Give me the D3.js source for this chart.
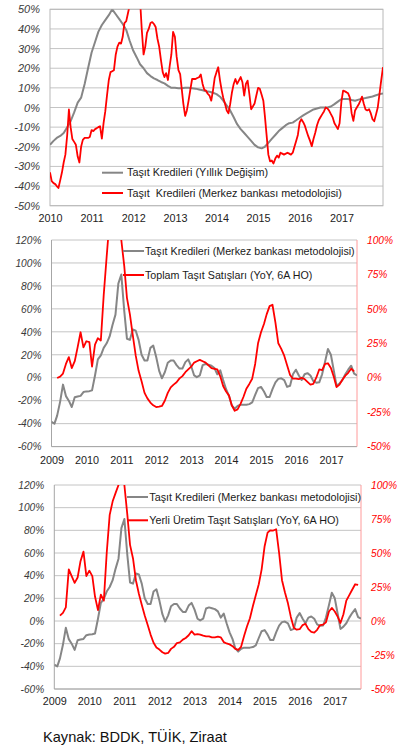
<!DOCTYPE html>
<html><head><meta charset="utf-8">
<script src="https://cdn.jsdelivr.net/npm/d3@7"></script>
<style>
body{margin:0;background:#fff;}
svg{display:block;font-family:"Liberation Sans",Arial,sans-serif;}
</style></head>
<body><svg id="c" width="399" height="755"></svg>
<script>
// ---------- DATA ----------
const years1 = ["2010","2011","2012","2013","2014","2015","2016","2017"];
const years23 = ["2009","2010","2011","2012","2013","2014","2015","2016","2017"];
const ticks1 = [50,40,30,20,10,0,-10,-20,-30,-40,-50];
const ticksLeft = [120,100,80,60,40,20,0,-20,-40,-60];
const ticksRight = [100,75,50,25,0,-25,-50];

// Panel 1: monthly from Jan 2010 (Yıllık Değişim)
const gray1 = [-19,-17,-15.5,-14.5,-13,-10,-7,-2.5,2.5,5,12,20,28,33.5,38.5,42,44.5,47,50,47.5,
 45,42.5,39.5,34,29,25.5,22,20,17.5,16,14.8,14,13,12.3,11,10,10,9.8,9.8,10,
 10,9.8,9.6,9.2,8.8,8.3,8,7.5,6.8,5.5,3.5,1,-1.5,-5,-8.5,-11,-13,-15,-17,-19,
 -20.3,-20.8,-20,-18,-16,-14,-12,-10.5,-9,-8,-7.7,-6.5,-5.2,-4,-3,-2,-1,-0.5,0,0,
 0,0.5,1.7,3,4.3,4.3,4.3,3.8,3.4,4,4.5,4.8,5.2,5.6,6.2,6.8,7.2];
// Panel 1: semi-monthly from Jan 2010 (Merkez bankası metodolojisi)
const red1 = [-33,-37.5,-38.5,-39,-40,-41,-37,-33,-28,-24,-14,-1,-10,-16,-17.5,-19,-25,-28,-20,-16.5,
 -15.5,-15.5,-15.5,-15,-11.5,-12,-11,-10.5,-10,-9.5,-15.8,-8,-2,6,14,18,18.5,19,27,31,
 33,32.5,36,43,44,48,52,56,60,58,62,60,55,40,27,31,38,40,43,43.5,
 42.5,41,35,31,24,18,15.5,17.5,14,21,27,38.5,36,26,19,17,10,2,-4.3,-1.5,
 3.5,9,14.5,14.5,14.5,15,15.4,16.8,12,9,8.6,7,6,3.5,8.6,15,18,20.5,13.7,8.6,
 5,2,-1.5,-3,1.7,7.5,12,14.5,12,13.7,15.5,13,6,12,13.7,7,-0.9,0.5,2,6,
 10,9.5,6.5,3.5,-4,-13.7,-24,-27.4,-27,-28.5,-26,-24.5,-25.5,-23,-23.5,-24,-23.5,-23,-23.5,-24,
 -23,-20,-17,-14,-7.5,-6,-7.5,-9.4,-12,-14.6,-17,-19.7,-16,-13,-9,-6.5,-5,-3.5,-2,0,
 -0.5,-1.7,-3.4,-5,-8,-9.5,-11,-8,3,8.6,8.2,7.7,7.2,5,-3,-6.8,-1.5,0,1.5,3.4,
 5.5,2,-1,-1.5,-0.9,-3,-6,-7,-3.5,0,6.8,13.7,20.5];
// Panels 2 & 3: monthly from Jan 2009 (Merkez bankası metodolojisi, left axis)
const gray2 = [-38.5,-40,-33,-21,-6,-16,-20,-25.5,-17,-16.3,-15.8,-12.5,-11.9,-11.7,-11,2,16,19.5,26,30,
 36,46,55,82,90,58,34,33,42,41,33,20,15,15,26,28,18,6,-0.5,5,
 13,15,15,11,8,8,13.6,16,10,2,0.5,2,11,12,11.3,10.5,8.5,3,6.5,-2,
 -10,-16,-24,-27,-24.5,-23.5,-23.5,-23.5,-23,-21.5,-15,-9,-8,-12,-16.8,-16.8,-10,-4,-1,-0.5,
 -2,-8,-7,3,7,2,-2,3,4,2,-3,-4.3,-4,3,14,25,20,6,-7,-5,
 -2,3,7,10.5,3.5,2];
// Panel 2: monthly from Mar 2009 (Toplam Taşıt Satışları, right axis)
const red2 = [-0.2,0.8,3,10,15,7,12,22,33,22,26.5,25.8,8,24,28.7,27,60,88,115,130,
 130,120,100,81,58,46,31,16,5,-2.5,-11,-15,-18,-20,-21.3,-21,-20.5,-16.5,-11,-7,
 -5,-3.3,-0.5,1.2,4,6,8,11,12,13,12,11,9,7,6.5,6,1,-6,-10,-13,
 -20,-24,-23,-19,-14,-8,-4.5,-0.7,10,25,33,39,46,52,53,40,25,21,16,9,
 2,-0.7,-0.7,-1,0,-1,-3,-5,-4.5,0,6,5.5,10,10.5,7,0.5,-6.8,-5,-1.5,1.5,
 3.6,6.5,4.6];
// Panel 3: monthly from Mar 2009 (Yerli Üretim Taşıt Satışları, right axis)
const red3 = [4,6,10,38,33,28,32,44,51,33,37,33,18,8,19.4,15,50,78,88,94,
 100,110,100,78,56,46,30,20,12,4,-3,-10,-16,-19.5,-21,-23,-24,-23.5,-20.5,-19,
 -16.2,-15.7,-13.7,-12.5,-10.5,-7.5,-10,-9.6,-10,-10.8,-11.3,-11.3,-12,-12,-11.5,-12,-15.5,-16.5,-17.2,-18.5,
 -20.5,-21.3,-19,-11,-4,2,11,19,27,38,55,65,66.7,66.5,67.5,50,30,21,13,3,
 -5,-6.4,-6,-3,-2,-6,-8,-8.5,-6.5,-3,-2.7,-1,7,9.6,7,3,-1.5,5,15,19,
 23,27,26.5];

const legend1 = ["Taşıt Kredileri (Yıllık Değişim)", "Taşıt  Kredileri (Merkez bankası metodolojisi)"];
const legend2 = ["Taşıt Kredileri (Merkez bankası metodolojisi)", "Toplam Taşıt Satışları (YoY, 6A HO)"];
const legend3 = ["Taşıt Kredileri (Merkez bankası metodolojisi)", "Yerli Üretim Taşıt Satışları (YoY, 6A HO)"];
const source = "Kaynak: BDDK, TÜİK, Ziraat";

// ---------- HELPERS ----------
const svg = d3.select("#c");
const GRAY = "#868686", RED = "#ff0000", GRID = "#c4c4c4";
const monthly = (y0, m0, arr) => arr.map((v, i) => ({d: new Date(y0, m0 + i, 1), v}));
const semiMonthly = (y0, m0, arr) => arr.map((v, i) => ({d: new Date(y0, m0 + Math.floor(i/2), i % 2 ? 16 : 1), v}));
let clipId = 0;

function drawPanel(cfg) {
  const g = svg.append("g");
  const x = d3.scaleTime().domain(cfg.xDomain).range([cfg.left, cfg.right]);
  const yL = d3.scaleLinear().domain(cfg.yDomain).range([cfg.bottom, cfg.top]);
  const yR = cfg.yRDomain ? d3.scaleLinear().domain(cfg.yRDomain).range([cfg.bottom, cfg.top]) : null;

  // gridlines
  g.append("g").selectAll("line").data(cfg.ticks).join("line")
    .attr("x1", cfg.left).attr("x2", cfg.right)
    .attr("y1", d => yL(d)).attr("y2", d => yL(d))
    .attr("stroke", GRID).attr("stroke-width", 1);

  // axes / border
  if (cfg.box) {
    g.append("rect").attr("x", cfg.left).attr("y", cfg.top)
      .attr("width", cfg.right - cfg.left).attr("height", cfg.bottom - cfg.top)
      .attr("fill", "none").attr("stroke", "#b8b8b8");
  } else {
    g.append("line").attr("x1", cfg.left).attr("x2", cfg.left).attr("y1", cfg.top).attr("y2", cfg.bottom).attr("stroke", "#a6a6a6");
    g.append("line").attr("x1", cfg.left).attr("x2", cfg.right).attr("y1", cfg.bottom).attr("y2", cfg.bottom).attr("stroke", "#a6a6a6");
    g.append("line").attr("x1", cfg.right).attr("x2", cfg.right).attr("y1", cfg.top).attr("y2", cfg.bottom).attr("stroke", "#ff9a9a");
  }

  // left labels
  const axL = d3.axisLeft(yL).tickValues(cfg.ticks).tickSize(0).tickPadding(0).tickFormat(d => d + "%");
  const gL = g.append("g").attr("transform", `translate(${cfg.left - 10},0)`).call(axL);
  gL.select(".domain").remove();
  gL.selectAll("text").attr("font-size", cfg.yFont).attr("font-style", "italic")
    .attr("fill", "#3a3a3a").attr("font-family", "Liberation Sans, Arial, sans-serif");

  if (yR) {
    const axR = d3.axisRight(yR).tickValues(ticksRight).tickSize(0).tickPadding(0).tickFormat(d => d + "%");
    const gR = g.append("g").attr("transform", `translate(${cfg.right + 10},0)`).call(axR);
    gR.select(".domain").remove();
    gR.selectAll("text").attr("font-size", cfg.yFont).attr("font-style", "italic")
      .attr("fill", RED).attr("font-family", "Liberation Sans, Arial, sans-serif");
  }

  // x labels
  const axX = d3.axisBottom(x).tickValues(cfg.years.map(y => new Date(+y, 0, 1)))
    .tickSize(0).tickPadding(0).tickFormat(d => String(d.getFullYear()));
  const gX = g.append("g").attr("transform", `translate(0,${cfg.xLabelY - 4})`).call(axX);
  gX.select(".domain").remove();
  gX.selectAll("text").attr("font-size", 10.8).attr("fill", "#222")
    .attr("font-family", "Liberation Sans, Arial, sans-serif");

  // clip
  const id = "clip" + (clipId++);
  svg.append("clipPath").attr("id", id).append("rect")
    .attr("x", cfg.left).attr("y", cfg.top).attr("width", cfg.right - cfg.left).attr("height", cfg.bottom - cfg.top);

  const lines = g.append("g").attr("clip-path", `url(#${id})`);
  cfg.series.forEach(s => {
    const yy = s.axis === "right" ? yR : yL;
    lines.append("path").datum(s.data)
      .attr("fill", "none").attr("stroke", s.color).attr("stroke-width", s.width)
      .attr("stroke-linejoin", "round")
      .attr("d", d3.line().x(d => x(d.d)).y(d => yy(d.v)));
  });

  // legend
  const lg = g.append("g");
  cfg.legend.forEach((t, i) => {
    const ly = cfg.legY[i];
    lg.append("line").attr("x1", cfg.legX1).attr("x2", cfg.legX2).attr("y1", ly).attr("y2", ly)
      .attr("stroke", i === 0 ? GRAY : RED).attr("stroke-width", 2);
    lg.append("text").attr("x", cfg.legTX).attr("y", ly).attr("dy", "0.35em")
      .attr("font-size", cfg.legFont).attr("fill", "#1a1a1a").attr("xml:space", "preserve")
      .style("white-space", "pre").text(t);
  });
}

drawPanel({
  left: 50, right: 383, top: 9.3, bottom: 205.7,
  xDomain: [new Date(2010, 0, 1), new Date(2018, 0, 1)],
  yDomain: [-50, 50], ticks: ticks1, yFont: 11, box: true,
  years: years1, xLabelY: 218.3,
  series: [
    {data: monthly(2010, 0, gray1), color: GRAY, width: 2},
    {data: semiMonthly(2010, 0, red1), color: RED, width: 1.8}
  ],
  legend: legend1, legY: [172.7, 193], legX1: 102, legX2: 123, legTX: 127, legFont: 10.8
});

drawPanel({
  left: 51.5, right: 357, top: 240, bottom: 446.6,
  xDomain: [new Date(2009, 0, 1), new Date(2017, 9, 1)],
  yDomain: [-60, 120], yRDomain: [-50, 100], ticks: ticksLeft, yFont: 10.2,
  years: years23, xLabelY: 460,
  series: [
    {data: monthly(2009, 0, gray2), color: GRAY, width: 2},
    {data: monthly(2009, 2, red2), color: RED, width: 1.8, axis: "right"}
  ],
  legend: legend2, legY: [251, 275], legX1: 123, legX2: 144, legTX: 145, legFont: 10.7
});

drawPanel({
  left: 54.3, right: 361, top: 485, bottom: 689,
  xDomain: [new Date(2009, 0, 1), new Date(2017, 9, 1)],
  yDomain: [-60, 120], yRDomain: [-50, 100], ticks: ticksLeft, yFont: 10.2,
  years: years23, xLabelY: 701.7,
  series: [
    {data: monthly(2009, 0, gray2), color: GRAY, width: 2},
    {data: monthly(2009, 2, red3), color: RED, width: 1.8, axis: "right"}
  ],
  legend: legend3, legY: [497, 520.3], legX1: 127, legX2: 148, legTX: 149.3, legFont: 10.8
});

svg.append("text").attr("x", 43).attr("y", 741.5).attr("font-size", 14.6)
  .attr("fill", "#111").text(source);
</script>
</body></html>
